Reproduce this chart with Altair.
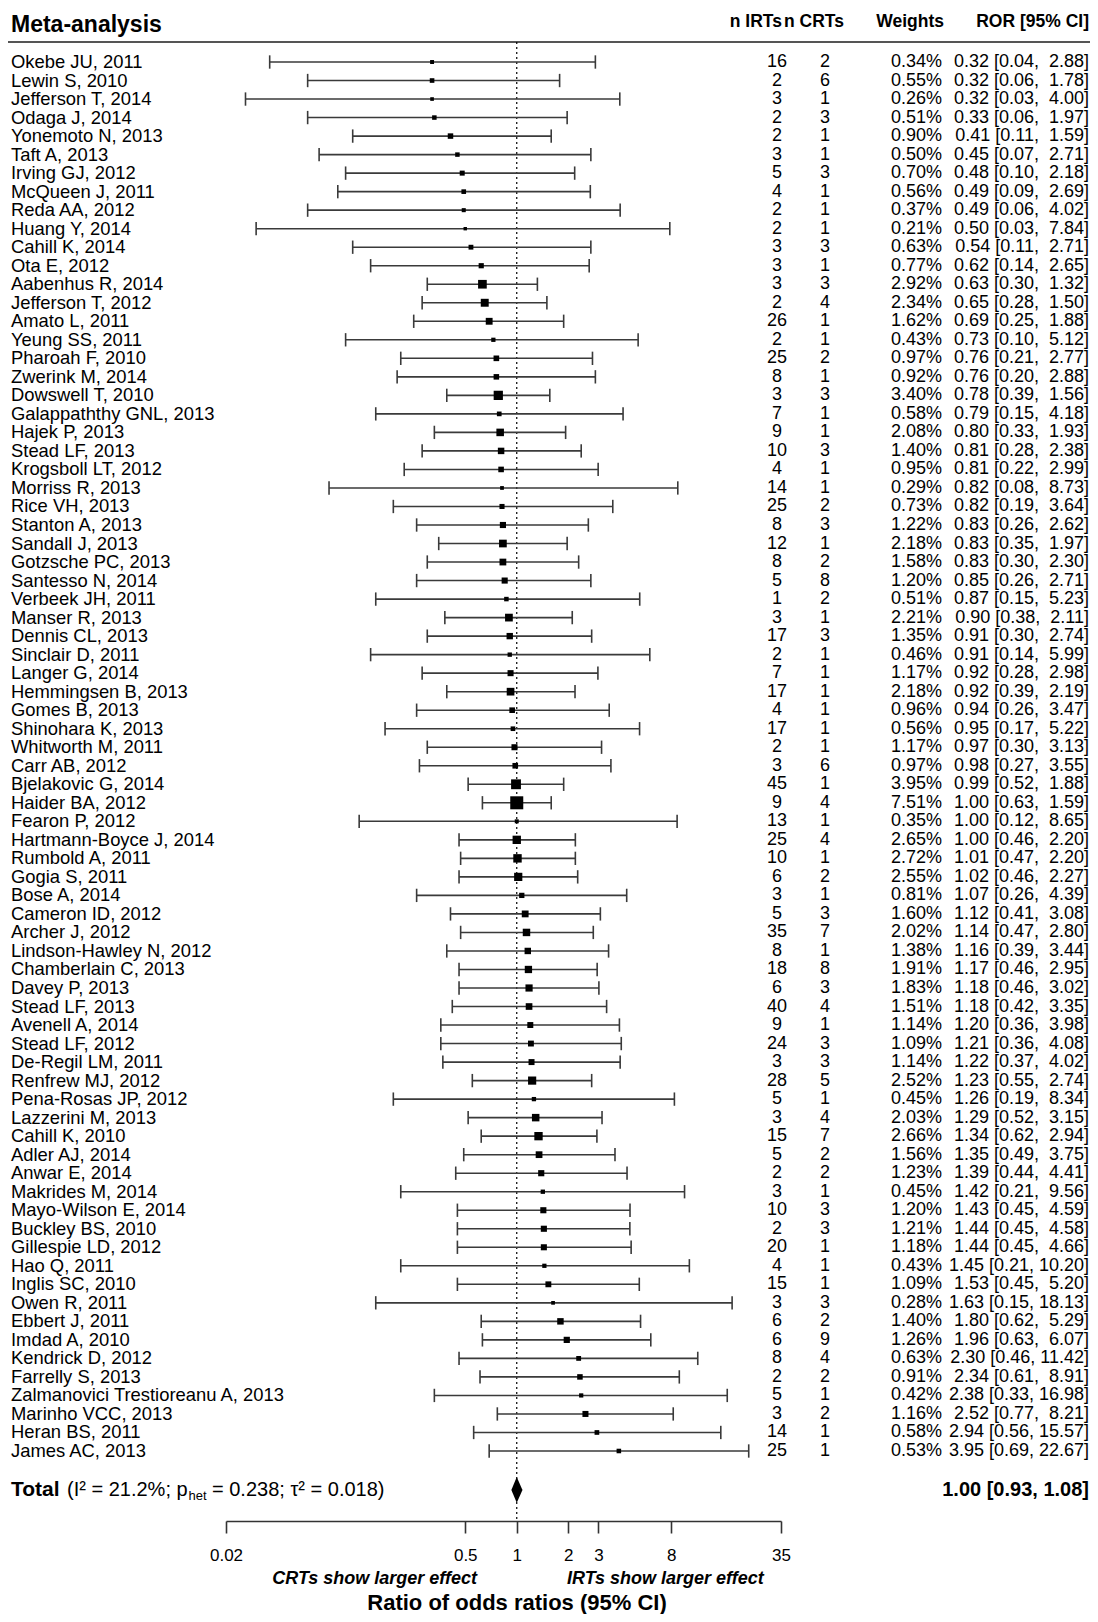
import altair as alt
import numpy as np
import pandas as pd

# ---------------- data ----------------
studies = [
    "Okebe JU, 2011", "Lewin S, 2010", "Jefferson T, 2014", "Odaga J, 2014",
    "Yonemoto N, 2013", "Taft A, 2013", "Irving GJ, 2012", "McQueen J, 2011",
    "Reda AA, 2012", "Huang Y, 2014", "Cahill K, 2014", "Ota E, 2012",
    "Aabenhus R, 2014", "Jefferson T, 2012", "Amato L, 2011", "Yeung SS, 2011",
    "Pharoah F, 2010", "Zwerink M, 2014", "Dowswell T, 2010", "Galappaththy GNL, 2013",
    "Hajek P, 2013", "Stead LF, 2013", "Krogsboll LT, 2012", "Morriss R, 2013",
    "Rice VH, 2013", "Stanton A, 2013", "Sandall J, 2013", "Gotzsche PC, 2013",
    "Santesso N, 2014", "Verbeek JH, 2011", "Manser R, 2013", "Dennis CL, 2013",
    "Sinclair D, 2011", "Langer G, 2014", "Hemmingsen B, 2013", "Gomes B, 2013",
    "Shinohara K, 2013", "Whitworth M, 2011", "Carr AB, 2012", "Bjelakovic G, 2014",
    "Haider BA, 2012", "Fearon P, 2012", "Hartmann-Boyce J, 2014", "Rumbold A, 2011",
    "Gogia S, 2011", "Bose A, 2014", "Cameron ID, 2012", "Archer J, 2012",
    "Lindson-Hawley N, 2012", "Chamberlain C, 2013", "Davey P, 2013", "Stead LF, 2013",
    "Avenell A, 2014", "Stead LF, 2012", "De-Regil LM, 2011", "Renfrew MJ, 2012",
    "Pena-Rosas JP, 2012", "Lazzerini M, 2013", "Cahill K, 2010", "Adler AJ, 2014",
    "Anwar E, 2014", "Makrides M, 2014", "Mayo-Wilson E, 2014", "Buckley BS, 2010",
    "Gillespie LD, 2012", "Hao Q, 2011", "Inglis SC, 2010", "Owen R, 2011",
    "Ebbert J, 2011", "Imdad A, 2010", "Kendrick D, 2012", "Farrelly S, 2013",
    "Zalmanovici Trestioreanu A, 2013", "Marinho VCC, 2013", "Heran BS, 2011", "James AC, 2013",
]
n_irts = [16, 2, 3, 2, 2, 3, 5, 4, 2, 2, 3, 3, 3, 2, 26, 2, 25, 8, 3, 7,
          9, 10, 4, 14, 25, 8, 12, 8, 5, 1, 3, 17, 2, 7, 17, 4, 17, 2, 3, 45,
          9, 13, 25, 10, 6, 3, 5, 35, 8, 18, 6, 40, 9, 24, 3, 28, 5, 3, 15, 5,
          2, 3, 10, 2, 20, 4, 15, 3, 6, 6, 8, 2, 5, 3, 14, 25]
n_crts = [2, 6, 1, 3, 1, 1, 3, 1, 1, 1, 3, 1, 3, 4, 1, 1, 2, 1, 3, 1,
          1, 3, 1, 1, 2, 3, 1, 2, 8, 2, 1, 3, 1, 1, 1, 1, 1, 1, 6, 1,
          4, 1, 4, 1, 2, 1, 3, 7, 1, 8, 3, 4, 1, 3, 3, 5, 1, 4, 7, 2,
          2, 1, 3, 3, 1, 1, 1, 3, 2, 9, 4, 2, 1, 2, 1, 1]
weights = [0.34, 0.55, 0.26, 0.51, 0.90, 0.50, 0.70, 0.56, 0.37, 0.21,
           0.63, 0.77, 2.92, 2.34, 1.62, 0.43, 0.97, 0.92, 3.40, 0.58,
           2.08, 1.40, 0.95, 0.29, 0.73, 1.22, 2.18, 1.58, 1.20, 0.51,
           2.21, 1.35, 0.46, 1.17, 2.18, 0.96, 0.56, 1.17, 0.97, 3.95,
           7.51, 0.35, 2.65, 2.72, 2.55, 0.81, 1.60, 2.02, 1.38, 1.91,
           1.83, 1.51, 1.14, 1.09, 1.14, 2.52, 0.45, 2.03, 2.66, 1.56,
           1.23, 0.45, 1.20, 1.21, 1.18, 0.43, 1.09, 0.28, 1.40, 1.26,
           0.63, 0.91, 0.42, 1.16, 0.58, 0.53]
ror = [0.32, 0.32, 0.32, 0.33, 0.41, 0.45, 0.48, 0.49, 0.49, 0.50,
       0.54, 0.62, 0.63, 0.65, 0.69, 0.73, 0.76, 0.76, 0.78, 0.79,
       0.80, 0.81, 0.81, 0.82, 0.82, 0.83, 0.83, 0.83, 0.85, 0.87,
       0.90, 0.91, 0.91, 0.92, 0.92, 0.94, 0.95, 0.97, 0.98, 0.99,
       1.00, 1.00, 1.00, 1.01, 1.02, 1.07, 1.12, 1.14, 1.16, 1.17,
       1.18, 1.18, 1.20, 1.21, 1.22, 1.23, 1.26, 1.29, 1.34, 1.35,
       1.39, 1.42, 1.43, 1.44, 1.44, 1.45, 1.53, 1.63, 1.80, 1.96,
       2.30, 2.34, 2.38, 2.52, 2.94, 3.95]
ci_low = [0.036, 0.06, 0.026, 0.06, 0.11, 0.07, 0.10, 0.09, 0.06, 0.03,
          0.11, 0.14, 0.30, 0.28, 0.25, 0.10, 0.21, 0.20, 0.39, 0.15,
          0.33, 0.28, 0.22, 0.08, 0.19, 0.26, 0.35, 0.30, 0.26, 0.15,
          0.38, 0.30, 0.14, 0.28, 0.39, 0.26, 0.17, 0.30, 0.27, 0.52,
          0.63, 0.12, 0.46, 0.47, 0.46, 0.26, 0.41, 0.47, 0.39, 0.46,
          0.46, 0.42, 0.36, 0.36, 0.37, 0.55, 0.19, 0.52, 0.62, 0.49,
          0.44, 0.21, 0.45, 0.45, 0.45, 0.21, 0.45, 0.15, 0.62, 0.63,
          0.46, 0.61, 0.33, 0.77, 0.56, 0.69]
ci_high = [2.88, 1.78, 4.00, 1.97, 1.59, 2.71, 2.18, 2.69, 4.02, 7.84,
           2.71, 2.65, 1.32, 1.50, 1.88, 5.12, 2.77, 2.88, 1.56, 4.18,
           1.93, 2.38, 2.99, 8.73, 3.64, 2.62, 1.97, 2.30, 2.71, 5.23,
           2.11, 2.74, 5.99, 2.98, 2.19, 3.47, 5.22, 3.13, 3.55, 1.88,
           1.59, 8.65, 2.20, 2.20, 2.27, 4.39, 3.08, 2.80, 3.44, 2.95,
           3.02, 3.35, 3.98, 4.08, 4.02, 2.74, 8.34, 3.15, 2.94, 3.75,
           4.41, 9.56, 4.59, 4.58, 4.66, 10.20, 5.20, 18.13, 5.29, 6.07,
           11.42, 8.91, 16.98, 8.21, 15.57, 22.67]

header_title = "Meta-analysis"
col_headers = ["n IRTs", "n CRTs", "Weights", "ROR [95% CI]"]
total_label = "Total"
total_stats = ["(I\u00b2 = 21.2%; p", "het", "= 0.238; \u03c4\u00b2 = 0.018)"]
total_est = [1.00]
total_low = [0.93]
total_high = [1.08]
tick_values = [0.02, 0.5, 1, 2, 3, 8, 35]
effect_labels = ["CRTs show larger effect", "IRTs show larger effect"]
x_title = "Ratio of odds ratios (95% CI)"

# ---------------- derived table ----------------
FONT = "Liberation Sans"
df = pd.DataFrame({
    "study": studies, "nirt": n_irts, "ncrt": n_crts, "w": weights,
    "ror": ror, "lo": ci_low, "hi": ci_high,
})
df["row"] = np.arange(1, len(df) + 1)
df["cap_lo"] = df["row"] - 0.36
df["cap_hi"] = df["row"] + 0.36
df["sz"] = (4.2 * np.sqrt(df["w"]) + 1.5) ** 2
df["w_lab"] = df["w"].map(lambda v: f"{v:.2f}%")


def ror_text(r, l, h):
    pad = "\u00a0" if h < 10 else ""
    return f"{r:.2f} [{l:.2f}, {pad}{h:.2f}]"


df["ror_lab"] = [ror_text(r, l, h) for r, l, h in zip(df["ror"], df["lo"], df["hi"])]

TOTAL_ROW = 78.1
xs = alt.Scale(type="log", domain=[0.02, 35], nice=False)
ys = alt.Scale(domain=[-0.08, 79.78], reverse=True, nice=False, zero=False)
xaxis = alt.Axis(
    values=tick_values, labelExpr="datum.value + ''", title=None, grid=False,
    orient="bottom", domainColor="#333333", domainWidth=1.6, tickColor="#333333",
    tickWidth=1.6, tickSize=12, labelFontSize=17, labelColor="black", labelFont=FONT,
    labelPadding=14, labelFlush=False, labelOverlap=False,
)
Y = alt.Y("row:Q", scale=ys, axis=None)
base = alt.Chart(df)

whiskers = base.mark_rule(color="#3a3a3a", strokeWidth=1.6).encode(
    x=alt.X("lo:Q", scale=xs, axis=xaxis), x2="hi:Q", y=Y)
caps_lo = base.mark_rule(color="#3a3a3a", strokeWidth=1.6).encode(
    x=alt.X("lo:Q", scale=xs, axis=xaxis),
    y=alt.Y("cap_lo:Q", scale=ys, axis=None), y2="cap_hi:Q")
caps_hi = base.mark_rule(color="#3a3a3a", strokeWidth=1.6).encode(
    x=alt.X("hi:Q", scale=xs, axis=xaxis),
    y=alt.Y("cap_lo:Q", scale=ys, axis=None), y2="cap_hi:Q")
squares = base.mark_square(color="black", filled=True, opacity=1).encode(
    x=alt.X("ror:Q", scale=xs, axis=xaxis), y=Y, size=alt.Size("sz:Q", scale=None))

ref = alt.Chart(pd.DataFrame({"v": [1.0]})).mark_rule(
    color="black", strokeDash=[2, 3], strokeWidth=1.2).encode(
    x=alt.X("v:Q", scale=xs, axis=xaxis))

diamond_df = pd.DataFrame({
    "y": [TOTAL_ROW - 0.7, TOTAL_ROW, TOTAL_ROW + 0.7],
    "x": [total_est[0], total_low[0], total_est[0]],
    "x2": [total_est[0], total_high[0], total_est[0]],
})
diamond = alt.Chart(diamond_df).mark_area(orient="horizontal", color="black", opacity=1).encode(
    y=alt.Y("y:Q", scale=ys, axis=None),
    x=alt.X("x:Q", scale=xs, axis=xaxis, stack=None),
    x2="x2:Q")

sep = alt.Chart(pd.DataFrame({"a": [0]})).mark_rule(color="#555555", strokeWidth=2).encode(
    x=alt.value(-218), x2=alt.value(864), y=alt.value(0))


def col_text(field, xpx, align, size=18):
    return base.mark_text(align=align, baseline="middle", fontSize=size, font=FONT,
                          color="black").encode(x=alt.value(xpx), y=Y, text=field)


names = col_text("study:N", -215, "left", size=18.4)
irt_col = col_text("nirt:Q", 551, "center")
crt_col = col_text("ncrt:Q", 599, "center")
w_col = col_text("w_lab:N", 716, "right")
ror_col = col_text("ror_lab:N", 863, "right")


def label(txt, xpx, ypx, align="left", size=18, weight="normal", style="normal", dy=0):
    return alt.Chart(pd.DataFrame({"t": [txt]})).mark_text(
        align=align, baseline="middle", fontSize=size, font=FONT, fontWeight=weight,
        fontStyle=style, color="black", dy=dy).encode(
        x=alt.value(xpx), y=alt.value(ypx), text="t:N")


def row_label(txt, xpx, align="left", size=20, weight="normal", dy=0):
    return alt.Chart(pd.DataFrame({"t": [txt], "row": [TOTAL_ROW]})).mark_text(
        align=align, baseline="middle", fontSize=size, font=FONT, fontWeight=weight,
        color="black", dy=dy).encode(
        x=alt.value(xpx), y=Y, text="t:N")


headers = [
    label(header_title, -215, -17, size=23, weight="bold"),
    label(col_headers[0], 556, -20, align="right", size=17.5, weight="bold"),
    label(col_headers[1], 558, -20, align="left", size=17.5, weight="bold"),
    label(col_headers[2], 718, -20, align="right", size=17.5, weight="bold"),
    label(col_headers[3], 863, -20, align="right", size=17.5, weight="bold"),
]

total_texts = [
    row_label(total_label, -215, size=21, weight="bold"),
    row_label(total_stats[0], -159, size=20),
    row_label(total_stats[1], -37.5, size=13, dy=6),
    row_label(total_stats[2], -14, size=20),
    row_label(f"{total_est[0]:.2f} [{total_low[0]:.2f}, {total_high[0]:.2f}]", 863,
              align="right", size=20, weight="bold"),
]

bottom = [
    label(effect_labels[0], 251, 1537, align="right", size=18, weight="bold", style="italic"),
    label(effect_labels[1], 341, 1537, align="left", size=18, weight="bold", style="italic"),
    label(x_title, 291, 1561, align="center", size=22, weight="bold"),
]

chart = alt.layer(
    sep, ref, whiskers, caps_lo, caps_hi, squares, diamond,
    names, irt_col, crt_col, w_col, ror_col,
    *headers, *total_texts, *bottom,
).properties(
    width=555, height=1479,
    autosize=alt.AutoSizeParams(type="none"),
    padding={"left": 218, "top": 34, "right": 309, "bottom": 93},
    background="white",
).configure_view(stroke=None)

chart.save("out.html", embed_options={"renderer": "svg", "actions": False})
